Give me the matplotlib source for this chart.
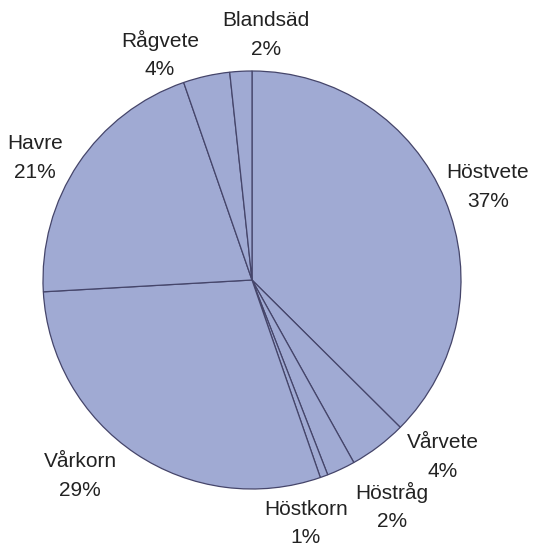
import matplotlib.pyplot as plt
import numpy as np

# grödor och andel av arealen (%)
grodor = ["Höstvete", "Vårvete", "Höstråg", "Höstkorn", "Vårkorn", "Havre", "Rågvete", "Blandsäd"]
andel = [37.45, 4.45, 2.2, 0.6, 29.4, 20.6, 3.6, 1.7]

# etikettpositioner (data-koordinater, radie = 1), mitt mellan namn och procent
etikett_pos = [(1.129, 0.445), (0.914, -0.847), (0.670, -1.086), (0.258, -1.165),
               (-0.823, -0.938), (-1.038, 0.584), (-0.440, 1.077), (0.067, 1.172)]
rad_halv = 0.068  # halva radavståndet

plt.rcParams['font.family'] = ['Liberation Sans', 'DejaVu Sans']

fig = plt.figure(figsize=(5.35, 5.47), dpi=100)
ax = fig.add_axes([43 / 535, 58 / 547, 418 / 535, 418 / 547])

ax.pie(andel, startangle=90, counterclock=False, radius=1,
       colors=["#a0aad3"] * len(andel),
       wedgeprops=dict(edgecolor="#45456a", linewidth=0.9))

total = sum(andel)
for namn, v, (x, y) in zip(grodor, andel, etikett_pos):
    ax.text(x, y + rad_halv, namn, ha="center", va="center", fontsize=15, color="#222222")
    ax.text(x, y - rad_halv, f"{round(v / total * 100):.0f}%", ha="center", va="center",
            fontsize=15, color="#222222")

ax.set_xlim(-1, 1)
ax.set_ylim(-1, 1)
ax.set_aspect("auto")
ax.axis("off")

fig.savefig("out.png", dpi=100)
